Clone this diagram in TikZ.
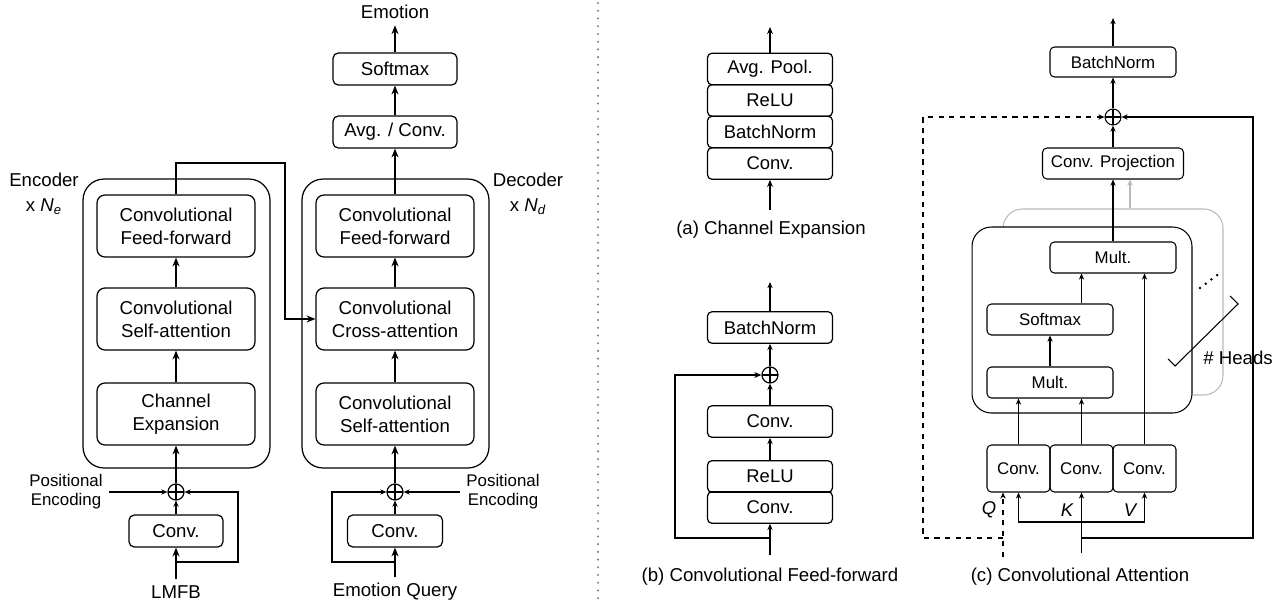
\documentclass[tikz,border=0pt]{standalone}
\usepackage{fontspec}
\setmainfont{Liberation Sans}
\usetikzlibrary{arrows.meta}

\begin{document}
\begin{tikzpicture}[x=0.02cm, y=-0.02cm, line width=0.7pt,
    every node/.style={font=\fontsize{10.6}{13}\selectfont},
    block/.style={draw, rounded corners=4.5pt, align=center, inner sep=0pt, minimum width=3.16cm, minimum height=1.24cm},
    smallblock/.style={draw, rounded corners=3pt, inner sep=0pt, minimum height=0.64cm},
    repeatbox/.style={draw, rounded corners=12pt, minimum width=3.74cm, minimum height=5.78cm},
    layerbox/.style={draw, rounded corners=2.5pt, inner sep=0pt, font=\fontsize{10.5}{12}\selectfont, minimum width=2.5cm, minimum height=0.63cm},
    attnbox/.style={draw, line width=0.6pt, rounded corners=2.5pt, inner sep=0pt, font=\fontsize{9.6}{11}\selectfont, minimum width=2.52cm, minimum height=0.62cm},
    headbox/.style={draw, rounded corners=11pt, minimum width=4.4cm, minimum height=3.72cm},
    sumnode/.style={draw, circle, inner sep=0pt, minimum size=0.32cm, path picture={\draw (path picture bounding box.north) -- (path picture bounding box.south) (path picture bounding box.west) -- (path picture bounding box.east);}},
    smalltext/.style={font=\fontsize{9.6}{10.8}\selectfont, align=center},
    arr/.style={-{Stealth[length=5pt,width=4pt]}},
    marr/.style={-{Stealth[length=4pt,width=3.3pt]}},
    sarr/.style={-{Stealth[length=3.5pt,width=3pt]}}
]
    \useasboundingbox (0,0) rectangle (1288,609);

    % Encoder
    \node[repeatbox] (encoder) at (176.5,323.5) {};
    \node[block] (encff) at (176,226) {Convolutional\\Feed-forward};
    \node[block] (encsa) at (176,319) {Convolutional\\Self-attention};
    \node[block] (encce) at (176,414) {Channel\\Expansion};
    \node[sumnode] (encplus) at (176,492) {};
    \node[smallblock, minimum width=1.88cm] (encconv) at (176,531) {Conv.};
    \node (lmfb) at (176,592) {LMFB};
    \node[smalltext] (encpe) at (66,492) {Positional\\Encoding};
    \node[align=center, font=\fontsize{10.6}{14}\selectfont] (enclabel) at (44,194) {Encoder\\x \textit{N\textsubscript{e}}};

    \draw[arr] (lmfb) -- (encconv);
    \draw[sarr] (encconv) -- (encplus);
    \draw[arr] (encplus) -- (encce);
    \draw[arr] (encce) -- (encsa);
    \draw[arr] (encsa) -- (encff);
    \draw[sarr] (encpe) -- (encplus);
    \coordinate (encsplit) at (176,562);
    \coordinate (encskip) at (238,562);
    \draw[sarr] (encsplit) -- (encskip) |- (encplus);

    % Decoder
    \node[repeatbox] (decoder) at (395.5,323.5) {};
    \node[block] (decff) at (395,226) {Convolutional\\Feed-forward};
    \node[block] (decca) at (395,319) {Convolutional\\Cross-attention};
    \node[block] (decsa) at (395,414) {Convolutional\\Self-attention};
    \node[sumnode] (decplus) at (395,492) {};
    \node[smallblock, minimum width=1.9cm] (decconv) at (395,531) {Conv.};
    \node (query) at (395,592) {Emotion Query};
    \node[smalltext] (decpe) at (503,492) {Positional\\Encoding};
    \node[align=center, font=\fontsize{10.6}{14}\selectfont] (declabel) at (528,194) {Decoder\\x \textit{N\textsubscript{d}}};
    \node[smallblock, minimum width=2.48cm] (avgconv) at (395,132) {Avg. / Conv.};
    \node[smallblock, minimum width=2.48cm] (softmax) at (395,69) {Softmax};
    \node (emotion) at (395,12) {Emotion};

    \draw[arr] (query) -- (decconv);
    \draw[sarr] (decconv) -- (decplus);
    \draw[arr] (decplus) -- (decsa);
    \draw[arr] (decsa) -- (decca);
    \draw[arr] (decca) -- (decff);
    \draw[arr] (decff) -- (avgconv);
    \draw[arr] (avgconv) -- (softmax);
    \draw[arr] (softmax) -- (emotion);
    \draw[sarr] (decpe) -- (decplus);
    \coordinate (decsplit) at (395,562);
    \coordinate (decskip) at (332,562);
    \draw[sarr] (decsplit) -- (decskip) |- (decplus);

    % Encoder output to cross-attention
    \coordinate (enclink) at (285,163);
    \draw[arr] (encff) |- (enclink) |- (decca);

    % Separator
    \draw[gray, line width=1.3pt, dash pattern=on 0pt off 4.4pt, line cap=round] (598,3) -- (598,605);

    % (a) Channel expansion
    \node[layerbox] (cepool) at (770,69) {Avg. Pool.};
    \node[layerbox] (cerelu) at (770,100.5) {ReLU};
    \node[layerbox] (cebn) at (770,132) {BatchNorm};
    \node[layerbox] (ceconv) at (770,163.5) {Conv.};
    \coordinate (ceout) at (770,27);
    \coordinate (cein) at (770,210);
    \draw[marr] (cein) -- (ceconv);
    \draw[marr] (cepool) -- (ceout);
    \node (cecap) at (771,230) {(a) Channel Expansion};

    % (b) Convolutional feed-forward
    \node[layerbox] (ffbn) at (770,327.5) {BatchNorm};
    \node[sumnode] (ffplus) at (770,375) {};
    \node[layerbox] (ffconvb) at (770,421.5) {Conv.};
    \node[layerbox] (ffrelu) at (770,476.5) {ReLU};
    \node[layerbox] (ffconva) at (770,507.5) {Conv.};
    \coordinate (ffout) at (770,282);
    \coordinate (ffin) at (770,555);
    \coordinate (ffsplit) at (770,538);
    \coordinate (ffskip) at (675,538);
    \draw[sarr] (ffin) -- (ffconva);
    \draw[sarr] (ffrelu) -- (ffconvb);
    \draw[sarr] (ffconvb) -- (ffplus);
    \draw[sarr] (ffplus) -- (ffbn);
    \draw[sarr] (ffbn) -- (ffout);
    \draw[marr] (ffsplit) -- (ffskip) |- (ffplus);
    \node (ffcap) at (770,577) {(b) Convolutional Feed-forward};

    % (c) Convolutional attention
    \begin{scope}[line width=0.6pt]
    \node[attnbox, minimum height=0.6cm] (attbn) at (1113,62) {BatchNorm};
    \node[sumnode] (attplus) at (1113,117) {};
    \node[attnbox, minimum width=2.82cm] (attproj) at (1113,163.5) {Conv. Projection};
    \node[headbox, gray!55] (grayhead) at (1113,302) {};
    \node[headbox, fill=white] (head) at (1082,320) {};
    \node[attnbox] (multb) at (1113,257.5) {Mult.};
    \node[attnbox] (attsoft) at (1050,319.5) {Softmax};
    \node[attnbox] (multa) at (1050,382.5) {Mult.};
    \node[attnbox, minimum width=1.26cm, minimum height=0.94cm] (convq) at (1018.5,468.5) {Conv.};
    \node[attnbox, minimum width=1.26cm, minimum height=0.94cm] (convk) at (1081.5,468.5) {Conv.};
    \node[attnbox, minimum width=1.26cm, minimum height=0.94cm] (convv) at (1144.5,468.5) {Conv.};
    \node[font=\fontsize{10.5}{12}\itshape] (qlabel) at (989,510) {Q};
    \node[font=\fontsize{10.5}{12}\itshape] (klabel) at (1067,510) {K};
    \node[font=\fontsize{10.5}{12}\itshape] (vlabel) at (1130,510) {V};
    \node (heads) at (1238,358) {\# Heads};
    \node (attcap) at (1080,577) {(c) Convolutional Attention};

    \coordinate (attout) at (1113,18);
    \draw[sarr] (convq) -- (convq |- multa.south);
    \draw[sarr] (convk) -- (convk |- multa.south);
    \draw[sarr] (convv) -- (convv |- multb.south);
    \draw[sarr] (multa) -- (attsoft);
    \draw[sarr] (attsoft.north -| convk) -- (multb.south -| convk);
    \draw[sarr] (multb) -- (attproj);
    \draw[sarr, gray!55] ([xshift=0.34cm]grayhead.north) -- ([xshift=0.34cm]attproj.south);
    \draw[sarr] (attproj) -- (attplus);
    \draw[sarr] (attplus) -- (attbn);
    \draw[sarr] (attbn) -- (attout);

    % Inputs
    \coordinate (qin) at (1003,557);
    \coordinate (qsplit) at (1003,538);
    \coordinate (qskip) at (923,538);
    \draw[sarr, dashed] (qin) -- (convq.south -| qin);
    \draw[sarr, dashed] (qsplit) -- (qskip) |- (attplus);
    \coordinate (kin) at (1081.5,553);
    \coordinate (ksplit) at (1081.5,522);
    \coordinate (kleft) at (1018.5,522);
    \coordinate (kright) at (1144.5,522);
    \coordinate (kres) at (1081.5,538);
    \coordinate (kcorner) at (1253,538);
    \draw[sarr] (kin) -- (convk);
    \draw[sarr] (ksplit) -- (kleft) -- (convq);
    \draw[sarr] (ksplit) -- (kright) -- (convv);
    \draw[sarr] (kres) -- (kcorner) |- (attplus);

    % Heads bracket
    \draw (1168,359) -- (1175,366) -- (1238,304) -- (1230,296);
    \foreach \i in {0,...,3}
        \fill (1200+\i*5.7,288-\i*4.3) circle (0.8pt);
    \end{scope}
\end{tikzpicture}
\end{document}
